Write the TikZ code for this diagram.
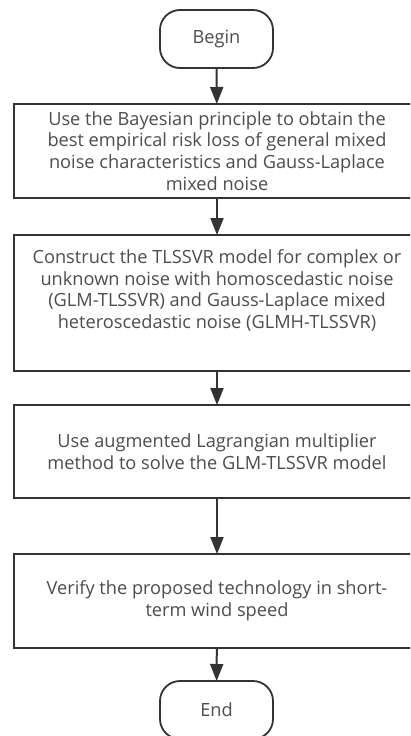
\documentclass[tikz,border=0pt]{standalone}
\usepackage{fontspec}
\setmainfont{Open Sans}
\usetikzlibrary{arrows.meta}
\definecolor{txtgray}{HTML}{4D4D4D}
\definecolor{linegray}{HTML}{333333}
\begin{document}
\begin{tikzpicture}[x=1pt,y=-1pt,
  every node/.style={font=\fontsize{18.2}{21.8}\selectfont, text=txtgray, align=center, inner sep=0pt, outer sep=0pt},
  terminal/.style={draw=linegray, line width=1.8pt, rounded corners=20pt, minimum width=113pt, minimum height=58pt},
  stepbox/.style={draw=linegray, line width=2pt, minimum width=406pt},
  flow/.style={draw=linegray, line width=2pt, -{Triangle[length=17pt,width=13pt]}}
]
\clip (0,0) rectangle (410,736);
\fill[white] (0,0) rectangle (410,736);
\node[terminal] (begin) at (216.5,39) {Begin};
\node[stepbox, minimum height=94pt] (s1) at (217,151) {Use the Bayesian principle to obtain the\\best empirical risk loss of general mixed\\noise characteristics and Gauss-Laplace\\mixed noise};
\node[stepbox, minimum height=136pt] (s2) at (217,303) {Construct the TLSSVR model for complex or\\unknown noise with homoscedastic noise\\(GLM-TLSSVR) and Gauss-Laplace mixed\\heteroscedastic noise (GLMH-TLSSVR)\\[6pt]};
\node[stepbox, minimum height=93pt] (s3) at (217,451.5) {Use augmented Lagrangian multiplier\\method to solve the GLM-TLSSVR model};
\node[stepbox, minimum height=94pt] (s4) at (217,601) {Verify the proposed technology in short-\\term wind speed};
\node[terminal] (end) at (216.5,710) {End};
\draw[flow] (begin) -- (s1);
\draw[flow] (s1) -- (s2);
\draw[flow] (s2) -- (s3);
\draw[flow] (s3) -- (s4);
\draw[flow] (s4) -- (end);
\end{tikzpicture}
\end{document}
